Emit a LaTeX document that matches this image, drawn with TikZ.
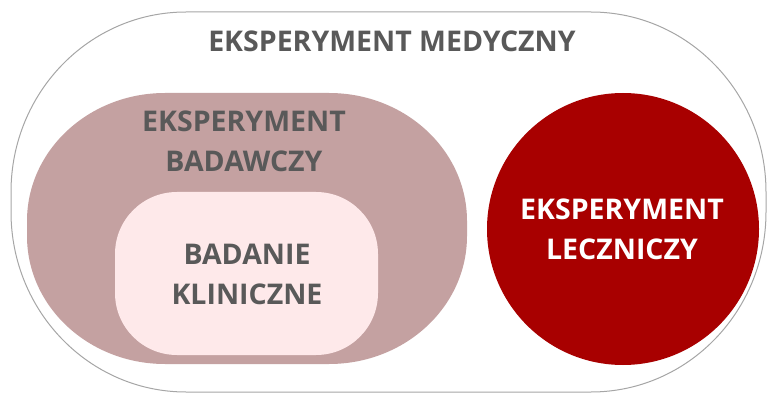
\documentclass[tikz,border=0pt]{standalone}
\usepackage{fontspec}
\setmainfont{Open Sans}
\definecolor{framegray}{HTML}{A6A6A6}
\definecolor{mauve}{HTML}{C4A1A1}
\definecolor{blush}{HTML}{FEE9EA}
\definecolor{crimson}{HTML}{A80000}
\definecolor{labelgray}{HTML}{595959}
% rounded box with elliptical corners: style, x1, y1, x2, y2, rx, ry
\newcommand{\ellbox}[7]{%
  \path[#1] (#2+#6,#3) -- (#4-#6,#3)
    arc[start angle=-90,end angle=0,x radius=#6,y radius=#7]
    -- (#4,#5-#7)
    arc[start angle=0,end angle=90,x radius=#6,y radius=#7]
    -- (#2+#6,#5)
    arc[start angle=90,end angle=180,x radius=#6,y radius=#7]
    -- (#2,#3+#7)
    arc[start angle=180,end angle=270,x radius=#6,y radius=#7]
    -- cycle;}
\begin{document}
\begin{tikzpicture}[x=1pt,y=1pt,
  lbl/.style={font=\bfseries\fontsize{28.5}{40}\selectfont,align=center,inner sep=0pt},
  darklbl/.style={lbl,text=labelgray},
  lightlbl/.style={lbl,text=white}]
\useasboundingbox (0,0) rectangle (769,394);
% outer set
\ellbox{draw=framegray,line width=1pt,fill=white}{11}{2}{766}{382}{175}{180}
% research experiment
\ellbox{fill=mauve}{27}{30}{467}{301}{138}{128}
% clinical trial
\ellbox{fill=blush}{115}{39}{378}{202}{62}{62}
% therapeutic experiment
\fill[crimson] (623,165) circle[radius=136];
\node[darklbl,anchor=base] (medyczny) at (392,342) {EKSPERYMENT MEDYCZNY};
\node[darklbl] (badawczy) at (244,253) {EKSPERYMENT\\BADAWCZY};
\node[darklbl] (kliniczne) at (247,120) {BADANIE\\KLINICZNE};
\node[lightlbl] (leczniczy) at (622,165) {EKSPERYMENT\\LECZNICZY};
\end{tikzpicture}
\end{document}
